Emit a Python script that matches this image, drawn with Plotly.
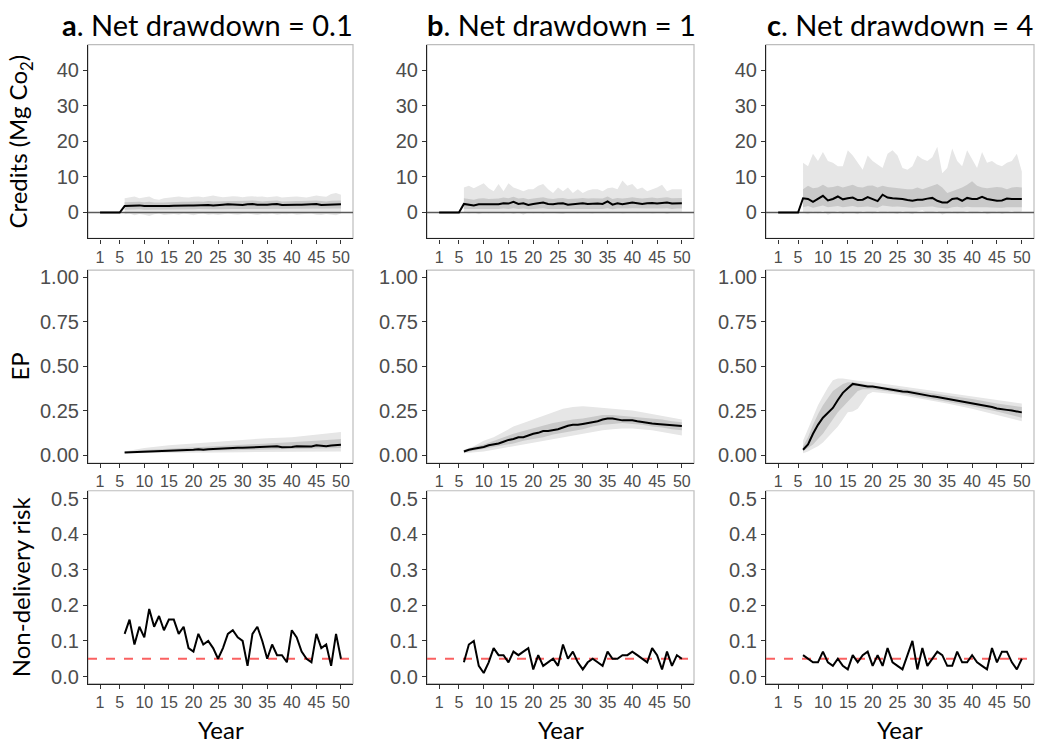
import plotly.graph_objects as go

# ---------------- data ----------------
years_pre = [1, 2, 3, 4, 5]
credits_pre = [0, 0, 0, 0, 0]
years = list(range(6, 51))

# Credits (Mg CO2) - panels a, b, c : median, inner band (lo/hi), outer band (lo/hi)
cred_a_med = [1.8, 1.9, 2.0, 2.0, 1.8, 1.8, 1.8, 1.7, 1.6, 1.8, 1.9, 2.0, 2.0, 2.0, 2.0,
              2.1, 2.0, 2.1, 2.0, 2.0, 2.2, 2.3, 2.2, 2.2, 2.1, 2.3, 2.4, 2.2, 2.1, 2.2,
              2.3, 2.4, 2.1, 2.2, 2.2, 2.2, 2.2, 2.3, 2.3, 2.4, 2.1, 2.1, 2.2, 2.3, 2.3]
cred_a_out_hi = [4.0, 4.2, 4.5, 4.0, 4.3, 4.5, 3.8, 3.6, 4.0, 4.2, 4.3, 4.5, 4.3, 4.2, 4.4,
                 4.5, 4.3, 4.6, 4.8, 4.5, 4.3, 4.4, 4.6, 4.5, 4.3, 4.5, 4.6, 4.4, 4.5, 4.3,
                 4.5, 4.6, 4.2, 4.4, 4.4, 4.5, 4.3, 4.2, 4.5, 4.8, 4.6, 4.4, 5.2, 5.5, 5.0]
cred_a_out_lo = [-0.5, -0.3, -0.8, -0.4, -0.6, -1.0, -0.5, -0.3, -0.7, -0.5, -0.4, -0.6, -0.3, -0.5, -0.8,
                 -0.4, -0.3, -0.6, -0.5, -0.7, -0.4, -0.3, -0.5, -0.6, -0.4, -0.3, -0.5, -0.7, -0.4, -0.5,
                 -0.3, -0.6, -0.4, -0.5, -0.3, -0.6, -0.5, -0.4, -0.3, -0.6, -0.7, -0.4, -0.5, -0.8, -0.3]
cred_a_in_hi = [2.9, 3.0, 3.1, 3.0, 2.9, 3.0, 2.8, 2.7, 2.8, 2.9, 3.0, 3.1, 3.0, 3.0, 3.1,
                3.1, 3.0, 3.2, 3.1, 3.1, 3.2, 3.3, 3.2, 3.2, 3.1, 3.3, 3.4, 3.2, 3.1, 3.2,
                3.3, 3.4, 3.1, 3.2, 3.2, 3.2, 3.2, 3.3, 3.3, 3.4, 3.2, 3.1, 3.3, 3.4, 3.4]
cred_a_in_lo = [0.8, 0.9, 0.9, 0.9, 0.8, 0.8, 0.8, 0.8, 0.7, 0.8, 0.9, 0.9, 0.9, 0.9, 0.9,
                1.0, 0.9, 1.0, 0.9, 0.9, 1.0, 1.1, 1.0, 1.0, 1.0, 1.1, 1.1, 1.0, 1.0, 1.0,
                1.1, 1.1, 1.0, 1.0, 1.0, 1.0, 1.0, 1.1, 1.1, 1.1, 1.0, 1.0, 1.0, 1.1, 1.1]

cred_b_med = [2.4, 2.3, 2.0, 2.3, 2.4, 2.3, 2.3, 2.3, 2.6, 2.5, 3.0, 2.4, 2.6, 2.1, 2.4,
              2.7, 2.8, 2.4, 2.3, 2.5, 2.6, 2.2, 2.3, 2.4, 2.6, 2.4, 2.5, 2.5, 2.4, 3.1,
              2.2, 2.6, 2.3, 2.6, 2.8, 2.6, 2.4, 2.6, 2.7, 2.5, 2.6, 2.8, 2.5, 2.6, 2.6]
cred_b_out_hi = [7.0, 7.5, 6.8, 7.5, 8.2, 6.8, 6.0, 8.0, 6.0, 8.2, 7.0, 6.5, 6.0, 6.5, 6.5,
                 7.5, 8.0, 6.5, 5.5, 7.0, 6.0, 7.0, 5.5, 6.5, 5.5, 6.2, 6.5, 6.5, 6.0, 6.8,
                 7.0, 6.5, 9.0, 7.5, 8.0, 6.5, 7.0, 6.0, 6.5, 7.0, 7.8, 6.0, 6.5, 6.5, 6.5]
cred_b_out_lo = [0.0, -0.3, 0.1, -0.5, 0.0, -0.2, 0.1, 0.0, -0.3, 0.1, -0.4, 0.0, -0.6, 0.1, -0.2,
                 0.0, -0.3, 0.1, 0.0, -0.2, -0.4, 0.1, 0.0, -0.2, 0.1, 0.0, -0.3, 0.1, 0.0, -0.2,
                 0.0, 0.1, -0.3, 0.0, 0.1, -0.2, 0.0, 0.1, -0.3, 0.0, 0.1, -0.4, 0.0, 0.1, 0.0]
cred_b_in_hi = [4.0, 3.8, 3.6, 3.9, 4.0, 3.8, 3.8, 3.9, 4.2, 4.0, 4.4, 3.9, 4.1, 3.7, 3.9,
                4.2, 4.3, 3.9, 3.8, 4.0, 4.1, 3.8, 3.8, 3.9, 4.1, 3.9, 4.0, 4.0, 3.9, 4.5,
                3.8, 4.1, 3.9, 4.1, 4.3, 4.1, 3.9, 4.1, 4.2, 4.0, 4.1, 4.3, 4.0, 4.1, 4.1]
cred_b_in_lo = [1.0, 1.0, 0.8, 1.0, 1.0, 1.0, 1.0, 1.0, 1.1, 1.0, 1.2, 1.0, 1.1, 0.9, 1.0,
                1.1, 1.2, 1.0, 1.0, 1.0, 1.1, 0.9, 1.0, 1.0, 1.1, 1.0, 1.0, 1.0, 1.0, 1.2,
                0.9, 1.1, 1.0, 1.1, 1.2, 1.1, 1.0, 1.1, 1.1, 1.0, 1.1, 1.2, 1.0, 1.1, 1.1]

cred_c_med = [4.0, 3.8, 3.0, 3.8, 4.7, 3.4, 3.8, 4.5, 3.7, 4.0, 4.2, 3.5, 3.6, 4.3, 3.7,
              3.2, 5.0, 4.2, 4.0, 4.0, 3.8, 3.5, 3.3, 3.6, 3.6, 3.9, 4.1, 3.3, 2.8, 2.8,
              3.8, 4.0, 3.3, 4.1, 3.8, 3.8, 4.4, 3.8, 3.6, 3.3, 3.4, 3.9, 3.8, 3.8, 3.8]
cred_c_out_hi = [14.0, 13.0, 16.5, 14.5, 17.0, 14.5, 14.0, 13.0, 13.0, 17.5, 16.0, 14.0, 12.0, 16.0, 14.5,
                 13.5, 12.5, 16.5, 17.5, 16.0, 12.5, 12.0, 13.0, 16.0, 15.0, 14.5, 15.5, 18.5, 11.0, 12.5,
                 18.0, 14.5, 13.0, 17.5, 15.0, 12.5, 17.0, 14.0, 14.5, 13.5, 13.0, 14.0, 14.5, 16.5, 11.5]
cred_c_out_lo = [0.0, -0.5, 0.3, -0.3, 0.5, -0.6, 0.0, 0.4, -0.4, 0.2, 0.0, -0.5, 0.4, 0.0, -0.3,
                 0.5, -0.2, 0.3, 0.0, -0.4, 0.4, 0.0, -0.5, 0.3, 0.6, -0.2, 0.0, 0.4, -0.6, 0.0,
                 0.3, -0.3, 0.0, 0.5, -0.2, 0.0, 0.4, -0.5, 0.0, 0.3, -0.4, 0.0, 0.5, -0.2, 0.3]
cred_c_in_hi = [6.5, 7.5, 6.8, 7.0, 7.8, 7.0, 7.2, 7.5, 7.0, 7.5, 7.8, 7.2, 7.0, 7.5, 7.6,
                7.0, 7.5, 7.2, 7.0, 6.8, 6.8, 6.5, 6.5, 7.0, 6.5, 7.0, 7.5, 8.0, 7.0, 5.5,
                6.0, 6.5, 7.0, 7.8, 8.8, 7.5, 7.0, 6.8, 7.0, 7.2, 7.0, 6.5, 7.0, 7.2, 7.0]
cred_c_in_lo = [1.5, 1.8, 1.3, 1.6, 2.0, 1.5, 1.7, 1.8, 1.5, 1.6, 1.8, 1.5, 1.6, 1.7, 1.5,
                1.3, 2.0, 1.8, 1.6, 1.7, 1.5, 1.4, 1.3, 1.5, 1.5, 1.6, 1.7, 1.4, 1.2, 1.1,
                1.5, 1.6, 1.4, 1.6, 1.5, 1.5, 1.7, 1.5, 1.4, 1.3, 1.3, 1.5, 1.6, 1.5, 1.5]

# EP - medians per year, bands at selected years
ep_a_med = [0.015, 0.016, 0.017, 0.018, 0.020, 0.020, 0.021, 0.021, 0.021, 0.021, 0.024, 0.026, 0.026, 0.028, 0.030,
            0.032, 0.030, 0.033, 0.035, 0.036, 0.036, 0.038, 0.040, 0.041, 0.041, 0.042, 0.042, 0.043, 0.044, 0.045,
            0.046, 0.050, 0.044, 0.044, 0.045, 0.050, 0.049, 0.049, 0.048, 0.055, 0.052, 0.050, 0.053, 0.056, 0.058]
ep_a_band_years = [6, 10, 15, 20, 25, 30, 35, 40, 45, 50]
ep_a_out_hi = [0.020, 0.040, 0.055, 0.065, 0.075, 0.085, 0.095, 0.100, 0.115, 0.130]
ep_a_out_lo = [0.010, 0.010, 0.010, 0.012, 0.014, 0.016, 0.018, 0.020, 0.020, 0.020]
ep_a_in_hi = [0.018, 0.028, 0.035, 0.042, 0.050, 0.058, 0.065, 0.070, 0.080, 0.090]
ep_a_in_lo = [0.012, 0.014, 0.016, 0.020, 0.025, 0.028, 0.032, 0.034, 0.036, 0.040]

ep_b_med = [0.020, 0.030, 0.035, 0.040, 0.045, 0.055, 0.058, 0.065, 0.075, 0.085, 0.090, 0.100, 0.100, 0.110, 0.120,
            0.125, 0.135, 0.135, 0.140, 0.145, 0.155, 0.165, 0.170, 0.170, 0.175, 0.180, 0.185, 0.190, 0.200, 0.205,
            0.205, 0.200, 0.195, 0.195, 0.195, 0.190, 0.185, 0.180, 0.178, 0.175, 0.172, 0.170, 0.168, 0.166, 0.163]
ep_b_band_years = [6, 8, 10, 12, 14, 16, 18, 20, 22, 24, 26, 28, 30, 32, 34, 36, 38, 40, 42, 44, 46, 48, 50]
ep_b_out_hi = [0.030, 0.050, 0.080, 0.100, 0.130, 0.160, 0.180, 0.200, 0.220, 0.240, 0.260, 0.270, 0.275,
               0.270, 0.265, 0.260, 0.255, 0.250, 0.240, 0.230, 0.220, 0.210, 0.200]
ep_b_out_lo = [0.010, 0.015, 0.020, 0.030, 0.040, 0.050, 0.060, 0.070, 0.080, 0.090, 0.100, 0.110, 0.120,
               0.130, 0.140, 0.145, 0.150, 0.150, 0.145, 0.140, 0.130, 0.120, 0.110]
ep_b_in_hi = [0.025, 0.045, 0.060, 0.080, 0.100, 0.120, 0.135, 0.150, 0.165, 0.180, 0.190, 0.200, 0.205,
              0.215, 0.225, 0.225, 0.220, 0.215, 0.210, 0.205, 0.200, 0.190, 0.185]
ep_b_in_lo = [0.015, 0.025, 0.035, 0.045, 0.055, 0.065, 0.080, 0.090, 0.100, 0.115, 0.125, 0.135, 0.145,
              0.160, 0.170, 0.175, 0.180, 0.175, 0.170, 0.160, 0.155, 0.145, 0.140]

ep_c_med = [0.030, 0.060, 0.120, 0.170, 0.210, 0.240, 0.265, 0.310, 0.350, 0.375, 0.400, 0.395, 0.390, 0.385, 0.385,
            0.380, 0.375, 0.372, 0.368, 0.362, 0.358, 0.356, 0.350, 0.345, 0.340, 0.335, 0.330, 0.327, 0.322, 0.317,
            0.312, 0.306, 0.300, 0.297, 0.290, 0.285, 0.280, 0.276, 0.270, 0.262, 0.256, 0.254, 0.250, 0.246, 0.240]
ep_c_band_years = [6, 7, 8, 9, 10, 11, 12, 13, 14, 15, 16, 17, 18, 19, 20, 25, 30, 35, 40, 45, 50]
ep_c_out_hi = [0.080, 0.150, 0.220, 0.280, 0.330, 0.380, 0.420, 0.430, 0.430, 0.425, 0.420, 0.418, 0.415, 0.413,
               0.410, 0.390, 0.370, 0.350, 0.330, 0.310, 0.290]
ep_c_out_lo = [0.010, 0.020, 0.035, 0.050, 0.070, 0.100, 0.130, 0.160, 0.200, 0.240, 0.245, 0.260, 0.300, 0.340,
               0.355, 0.340, 0.315, 0.290, 0.260, 0.225, 0.190]
ep_c_in_hi = [0.050, 0.100, 0.170, 0.230, 0.280, 0.320, 0.360, 0.380, 0.400, 0.410, 0.410, 0.405, 0.400, 0.395,
              0.390, 0.375, 0.355, 0.335, 0.315, 0.290, 0.270]
ep_c_in_lo = [0.020, 0.040, 0.060, 0.090, 0.120, 0.160, 0.200, 0.240, 0.270, 0.300, 0.330, 0.360, 0.370, 0.370,
              0.370, 0.350, 0.325, 0.300, 0.275, 0.245, 0.210]

# Non-delivery risk
risk_a = [0.12, 0.16, 0.09, 0.14, 0.11, 0.19, 0.14, 0.17, 0.13, 0.16, 0.16, 0.12, 0.14, 0.08, 0.07,
          0.12, 0.09, 0.10, 0.08, 0.05, 0.08, 0.12, 0.13, 0.11, 0.10, 0.03, 0.12, 0.14, 0.10, 0.05,
          0.09, 0.06, 0.06, 0.04, 0.13, 0.11, 0.07, 0.05, 0.04, 0.12, 0.08, 0.09, 0.03, 0.12, 0.05]
risk_b = [0.04, 0.09, 0.10, 0.03, 0.01, 0.04, 0.08, 0.06, 0.06, 0.04, 0.07, 0.06, 0.07, 0.08, 0.02,
          0.06, 0.03, 0.04, 0.05, 0.03, 0.09, 0.05, 0.07, 0.04, 0.02, 0.04, 0.05, 0.04, 0.03, 0.07,
          0.05, 0.05, 0.06, 0.06, 0.07, 0.06, 0.05, 0.04, 0.08, 0.06, 0.02, 0.07, 0.03, 0.06, 0.05]
risk_c = [0.06, 0.05, 0.04, 0.04, 0.07, 0.04, 0.03, 0.05, 0.03, 0.02, 0.06, 0.04, 0.06, 0.07, 0.03,
          0.06, 0.03, 0.08, 0.04, 0.03, 0.02, 0.06, 0.10, 0.02, 0.08, 0.03, 0.05, 0.07, 0.06, 0.03,
          0.03, 0.07, 0.04, 0.04, 0.06, 0.04, 0.03, 0.02, 0.08, 0.04, 0.07, 0.07, 0.04, 0.02, 0.05]
risk_threshold = 0.05

titles = [("a", "Net drawdown = 0.1"), ("b", "Net drawdown = 1"), ("c", "Net drawdown = 4")]
row_labels = ["Credits (Mg Co<sub>2</sub>)", "EP", "Non-delivery risk"]
x_ticks = [1, 5, 10, 15, 20, 25, 30, 35, 40, 45, 50]

# ---------------- layout geometry ----------------
W, H = 1038, 749
col_px = [(88, 353), (427, 694), (766, 1034)]
row_px = [(41, 237), (269, 464), (492, 687)]
title_left_px = [60, 425, 765]
X_RANGE = [-1.45, 52.45]
y_ranges = [[-7.3, 47.2], [-0.045, 1.04], [-0.02, 0.522]]
y_ticks = [[0, 10, 20, 30, 40], [0, 0.25, 0.5, 0.75, 1.0], [0, 0.1, 0.2, 0.3, 0.4, 0.5]]
y_fmt = ["d", ".2f", ".1f"]

OUTER = "#E6E6E6"
INNER = "#C9C9C9"
TICK_FONT = "Liberation Sans"
TEXT_FONT = "Lato"

fig = go.Figure()


def ax_names(r, c):
    k = r * 3 + c + 1
    return ("x" if k == 1 else f"x{k}"), ("y" if k == 1 else f"y{k}"), k


def add_band(xa, ya, xs, lo, hi, color):
    fig.add_trace(go.Scatter(x=xs, y=lo, mode="lines", line=dict(width=0, color=color),
                             xaxis=xa, yaxis=ya, showlegend=False, hoverinfo="skip"))
    fig.add_trace(go.Scatter(x=xs, y=hi, mode="lines", line=dict(width=0, color=color),
                             fill="tonexty", fillcolor=color,
                             xaxis=xa, yaxis=ya, showlegend=False, hoverinfo="skip"))


credit_sets = [
    (cred_a_med, cred_a_out_lo, cred_a_out_hi, cred_a_in_lo, cred_a_in_hi),
    (cred_b_med, cred_b_out_lo, cred_b_out_hi, cred_b_in_lo, cred_b_in_hi),
    (cred_c_med, cred_c_out_lo, cred_c_out_hi, cred_c_in_lo, cred_c_in_hi),
]
ep_sets = [
    (ep_a_med, ep_a_band_years, ep_a_out_lo, ep_a_out_hi, ep_a_in_lo, ep_a_in_hi),
    (ep_b_med, ep_b_band_years, ep_b_out_lo, ep_b_out_hi, ep_b_in_lo, ep_b_in_hi),
    (ep_c_med, ep_c_band_years, ep_c_out_lo, ep_c_out_hi, ep_c_in_lo, ep_c_in_hi),
]
risk_sets = [risk_a, risk_b, risk_c]

for c in range(3):
    # Row 1: credits
    xa, ya, _ = ax_names(0, c)
    med, olo, ohi, ilo, ihi = credit_sets[c]
    add_band(xa, ya, years, olo, ohi, OUTER)
    add_band(xa, ya, years, ilo, ihi, INNER)
    fig.add_trace(go.Scatter(x=X_RANGE, y=[0, 0], mode="lines", line=dict(color="#5A5A5A", width=1.5),
                             xaxis=xa, yaxis=ya, showlegend=False, hoverinfo="skip"))
    fig.add_trace(go.Scatter(x=years_pre + years, y=credits_pre + med, mode="lines",
                             line=dict(color="black", width=2), xaxis=xa, yaxis=ya, showlegend=False))
    # Row 2: EP
    xa, ya, _ = ax_names(1, c)
    med, by, olo, ohi, ilo, ihi = ep_sets[c]
    add_band(xa, ya, by, olo, ohi, OUTER)
    add_band(xa, ya, by, ilo, ihi, INNER)
    fig.add_trace(go.Scatter(x=years, y=med, mode="lines", line=dict(color="black", width=2),
                             xaxis=xa, yaxis=ya, showlegend=False))
    # Row 3: risk
    xa, ya, _ = ax_names(2, c)
    fig.add_trace(go.Scatter(x=X_RANGE, y=[risk_threshold, risk_threshold], mode="lines",
                             line=dict(color="rgba(250,80,80,0.9)", width=2, dash="dash"),
                             xaxis=xa, yaxis=ya, showlegend=False, hoverinfo="skip"))
    fig.add_trace(go.Scatter(x=years, y=risk_sets[c], mode="lines", line=dict(color="black", width=2),
                             xaxis=xa, yaxis=ya, showlegend=False))

layout = dict(
    width=W, height=H, margin=dict(l=0, r=0, t=0, b=0),
    paper_bgcolor="white", plot_bgcolor="white", showlegend=False,
)
shapes = []
annotations = []
for r in range(3):
    for c in range(3):
        xa, ya, k = ax_names(r, c)
        x0, x1 = col_px[c]
        y0, y1 = row_px[r]
        xkey = "xaxis" if k == 1 else f"xaxis{k}"
        ykey = "yaxis" if k == 1 else f"yaxis{k}"
        layout[xkey] = dict(
            domain=[x0 / W, x1 / W], anchor=ya, range=X_RANGE,
            tickmode="array", tickvals=x_ticks, ticktext=[str(v) for v in x_ticks],
            showgrid=False, zeroline=False, showline=True, linecolor="#222222", linewidth=1.2,
            ticks="outside", ticklen=4, tickcolor="#333333", tickwidth=1,
            tickfont=dict(family=TICK_FONT, size=16, color="#4D4D4D"),
        )
        layout[ykey] = dict(
            domain=[1 - y1 / H, 1 - y0 / H], anchor=xa, range=y_ranges[r],
            tickmode="array", tickvals=y_ticks[r], tickformat=y_fmt[r],
            showgrid=False, zeroline=False, showline=True, linecolor="#222222", linewidth=1.2,
            ticks="outside", ticklen=4, tickcolor="#333333", tickwidth=1,
            tickfont=dict(family=TICK_FONT, size=20, color="#4D4D4D"),
        )
        shapes.append(dict(type="rect", xref=f"{xa} domain", yref=f"{ya} domain",
                           x0=0, x1=1, y0=0, y1=1, line=dict(color="#BDBDBD", width=1.2),
                           layer="below"))

for c in range(3):
    x0, x1 = col_px[c]
    letter, txt = titles[c]
    annotations.append(dict(text=f"<b>{letter}</b>. {txt}", x=title_left_px[c] / W, y=1 - 21 / H,
                            xref="paper", yref="paper", showarrow=False, xanchor="left", yanchor="middle",
                            font=dict(family=TEXT_FONT, size=29, color="black")))
    annotations.append(dict(text="Year", x=(x0 + x1) / 2 / W, y=1 - 733 / H,
                            xref="paper", yref="paper", showarrow=False, xanchor="center", yanchor="middle",
                            font=dict(family=TEXT_FONT, size=24, color="black")))
for r in range(3):
    y0, y1 = row_px[r]
    annotations.append(dict(text=row_labels[r], x=20 / W, y=1 - (y0 + y1) / 2 / H,
                            xref="paper", yref="paper", showarrow=False, xanchor="center", yanchor="middle",
                            textangle=-90, font=dict(family=TEXT_FONT, size=24, color="black")))

layout["shapes"] = shapes
layout["annotations"] = annotations
fig.update_layout(**layout)
fig.write_html("out.html")
